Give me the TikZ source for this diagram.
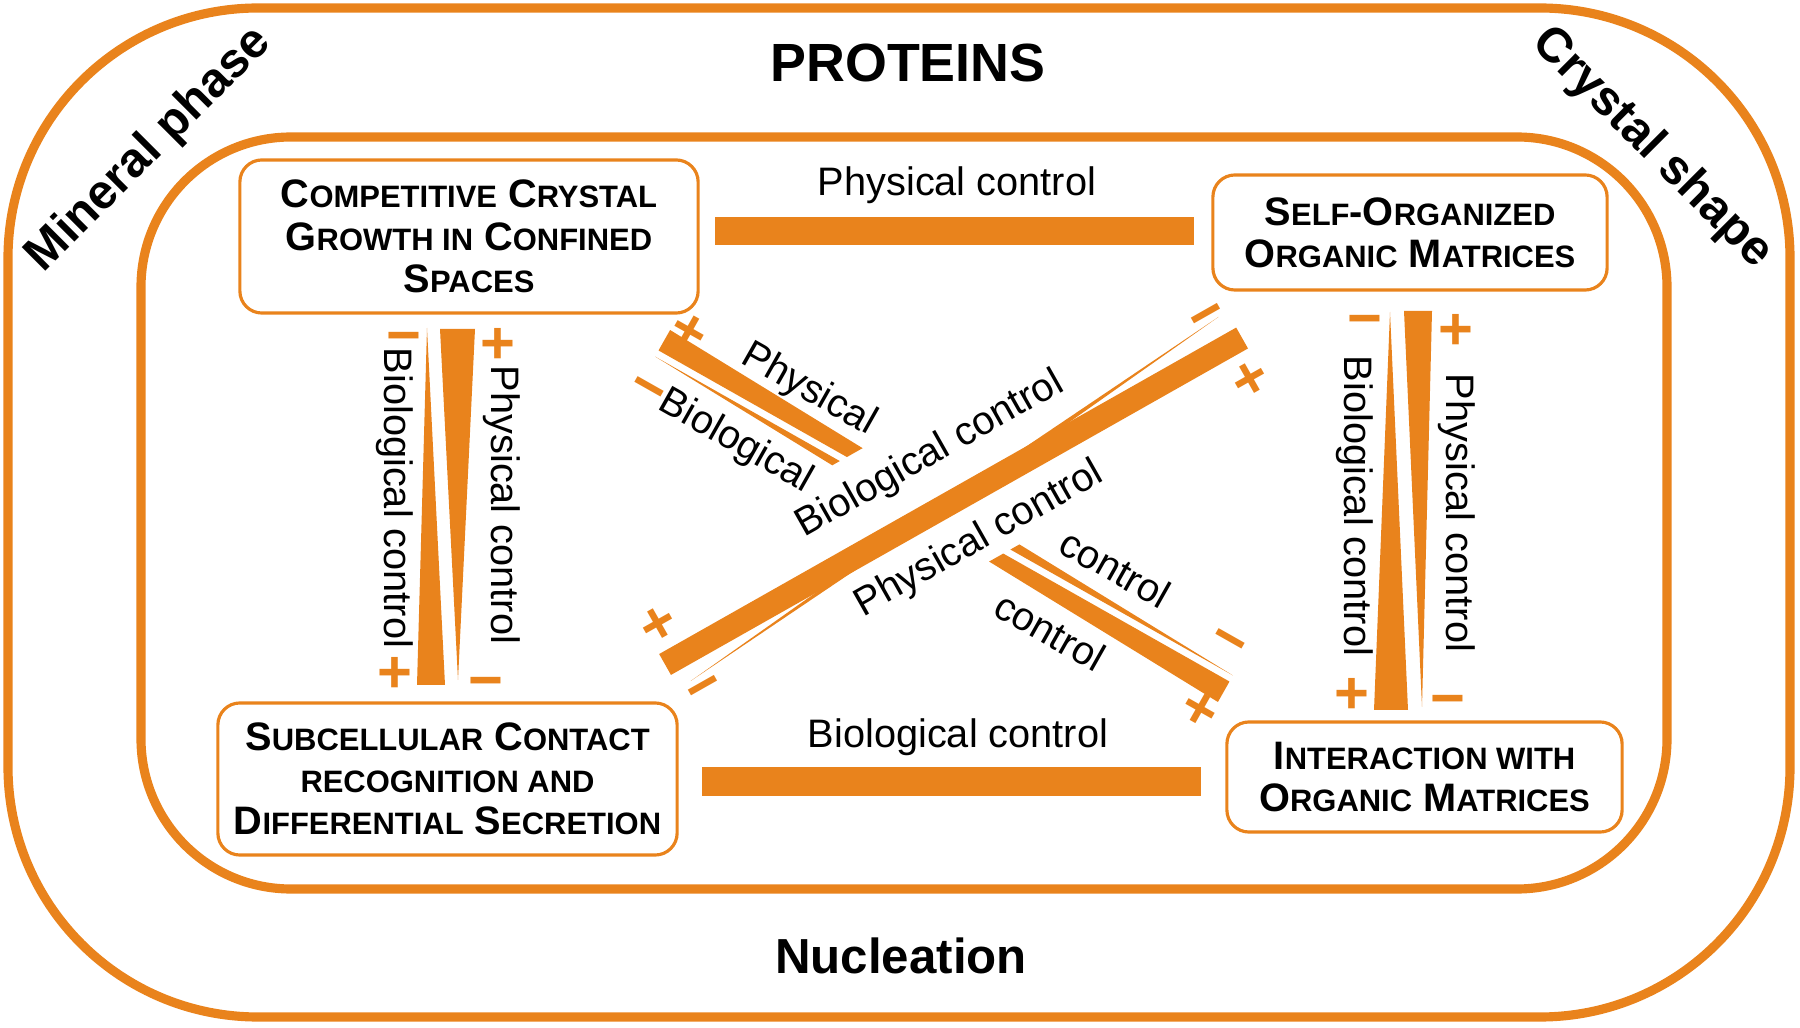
\documentclass[tikz,border=0pt]{standalone}
\usepackage{fontspec}
\setmainfont{Liberation Sans}
\definecolor{ochre}{RGB}{233,131,28}
\newcommand{\sm}[1]{{\fontsize{8.8}{12}\selectfont #1}}

\begin{document}
\begin{tikzpicture}[x=0.01cm,y=-0.01cm]
\tikzset{FrameStyle/.style={draw=ochre,line width=2.6pt},
  BoxStyle/.style={draw=ochre,line width=0.9pt,rounded corners=0.22cm,fill=white,
    align=center,inner sep=0pt,font=\bfseries\fontsize{11.3}{12}\selectfont},
  BandStyle/.style={fill=ochre},
  TextStyle/.style={inner sep=0pt,font=\fontsize{11.3}{13}\selectfont},
  SignStyle/.style={inner sep=0pt,text=ochre,text height=11.9pt,text depth=0pt,
    font=\bfseries\fontsize{17}{17}\selectfont},
  TitleStyle/.style={inner sep=0pt,font=\bfseries\fontsize{15.3}{15}\selectfont},
  CornerStyle/.style={inner sep=0pt,font=\bfseries\fontsize{13.8}{14}\selectfont}}
\useasboundingbox (0,0) rectangle (1800,1028);

\draw[FrameStyle,rounded corners=2.5cm] (8,8) rectangle (1790,1017);
\draw[FrameStyle,rounded corners=1.5cm] (141,137) rectangle (1667,889);

\node[TitleStyle] (PR) at (908,63) {PROTEINS};
\node[TitleStyle,font=\bfseries\fontsize{14}{14}\selectfont] (NU) at (901,956) {Nucleation};
\node[CornerStyle,rotate=45] (MP) at (149,150) {Mineral phase};
\node[CornerStyle,rotate=-45] (CS) at (1652,148) {Crystal shape};

\node[BoxStyle,minimum width=4.58cm,minimum height=1.53cm] (CCG) at (469,236.5)
  {C\sm{OMPETITIVE} C\sm{RYSTAL}\\G\sm{ROWTH IN} C\sm{ONFINED}\\S\sm{PACES}};
\node[BoxStyle,minimum width=3.94cm,minimum height=1.15cm] (SOM) at (1410,232.5)
  {S\sm{ELF}-O\sm{RGANIZED}\\O\sm{RGANIC} M\sm{ATRICES}};
\node[BoxStyle,minimum width=4.59cm,minimum height=1.52cm] (SCR) at (447.5,779)
  {S\sm{UBCELLULAR} C\sm{ONTACT}\\\sm{RECOGNITION AND}\\D\sm{IFFERENTIAL} S\sm{ECRETION}};
\node[BoxStyle,minimum width=3.95cm,minimum height=1.10cm] (IOM) at (1424.5,777)
  {I\sm{NTERACTION WITH}\\O\sm{RGANIC} M\sm{ATRICES}};

\fill[BandStyle] (715,217) rectangle (1194,245);
\node[TextStyle] (PCt) at (957,185) {Physical control};
\fill[BandStyle] (702,767) rectangle (1201,796);
\node[TextStyle] (BCb) at (958,737) {Biological control};

\fill[BandStyle] (427,328) -- (445,685) -- (417,685) -- cycle;
\fill[BandStyle] (440,329) -- (475,329) -- (458,680) -- cycle;
\node[SignStyle] at (404,335) {−};
\node[SignStyle] at (498,343) {+};
\node[SignStyle] at (395,672) {+};
\node[SignStyle] at (486,680) {−};
\node[TextStyle,rotate=-90] (BCl) at (395,498) {Biological control};
\node[TextStyle,rotate=-90] (PCl) at (502,505) {Physical control};

\fill[BandStyle] (1390,312) -- (1408,710) -- (1374,710) -- cycle;
\fill[BandStyle] (1404,311) -- (1432,311) -- (1422,707) -- cycle;
\node[SignStyle] at (1365,318) {−};
\node[SignStyle] at (1456,329) {+};
\node[SignStyle] at (1352,693) {+};
\node[SignStyle] at (1448,698) {−};
\node[TextStyle,rotate=-90] (BCr) at (1355,506) {Biological control};
\node[TextStyle,rotate=-90] (PCr) at (1457,513) {Physical control};

\begin{scope}[shift={(954,501)},rotate=29.5,transform shape]
\fill[BandStyle] (-318,27) -- (0,2.1) -- (321,-30) -- (0,-4.9) -- cycle;
\fill[BandStyle] (-332,-12) rectangle (331,12);
\node[SignStyle] at (312,-40) {−};
\node[SignStyle] at (318,38) {+};
\node[SignStyle] at (-318,-40) {+};
\node[SignStyle] at (-310,36) {−};
\node[TextStyle] (BCd) at (2,-52) {Biological control};
\node[TextStyle] (PCd) at (3,46) {Physical control};
\end{scope}

\foreach \a/\b in {-91/-700,70/700}{
\begin{scope}
\clip[shift={(954,501)},rotate=29.5] (-800,\a) rectangle (800,\b);
\begin{scope}[shift={(944,516)},rotate=-29.5]
\fill[BandStyle] (-330,-27) -- (-330,-3.5) -- (330,-3.5) -- cycle;
\fill[BandStyle] (330,3.5) -- (330,27) -- (-330,3.5) -- cycle;
\end{scope}
\end{scope}}
\begin{scope}[shift={(944,516)},rotate=-29.5,transform shape]
\node[SignStyle] at (-313,-37) {+};
\node[SignStyle] at (-320,32) {−};
\node[SignStyle] at (310,-35) {−};
\node[SignStyle] at (318,40) {+};
\node[TextStyle] (Ph) at (-180,-43) {Physical};
\node[TextStyle] (Bi) at (-218,38) {Biological};
\node[TextStyle] (Co1) at (175,-39) {control};
\node[TextStyle] (Co2) at (149,48) {control};
\end{scope}
\end{tikzpicture}
\end{document}
